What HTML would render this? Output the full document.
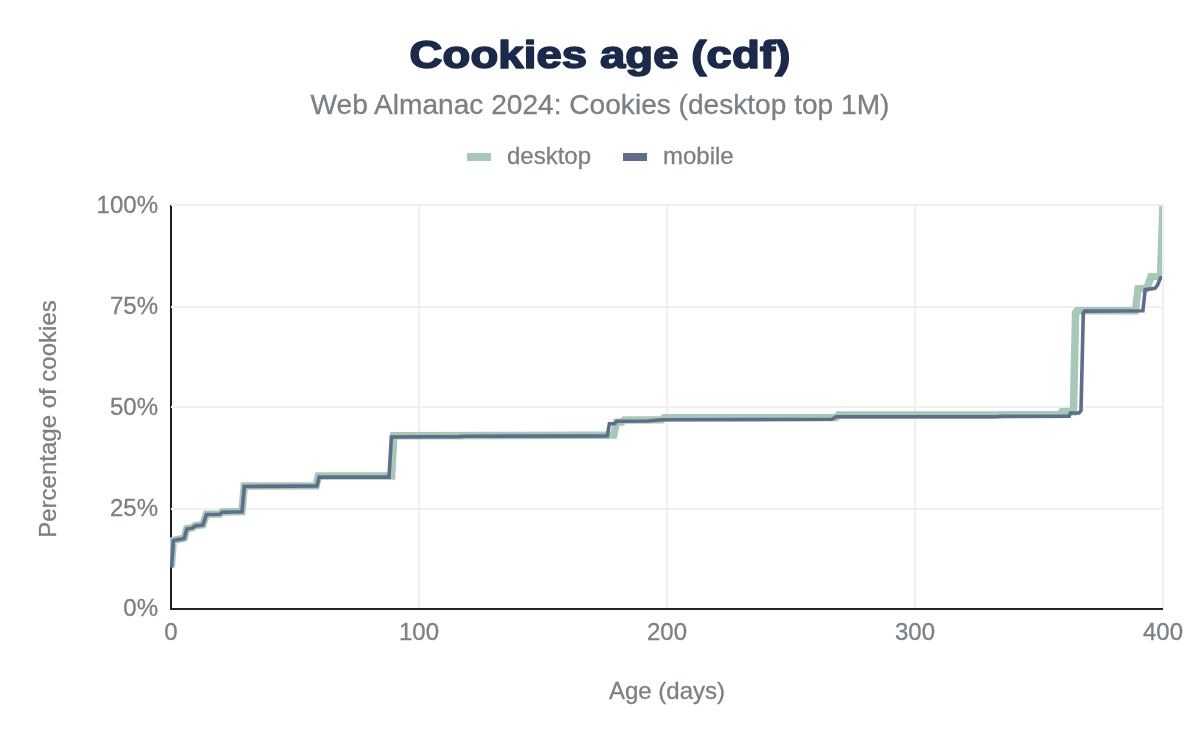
<!DOCTYPE html>
<html>
<head>
<meta charset="utf-8">
<style>
html,body{margin:0;padding:0;background:#fff;}
body{width:1200px;height:742px;overflow:hidden;position:relative;font-family:"Liberation Sans",sans-serif;}
svg{position:absolute;left:0;top:0;will-change:transform;}
</style>
</head>
<body>
<svg width="1200" height="742" viewBox="0 0 1200 742">
  <!-- title -->
  <text transform="translate(600,68.4) scale(1.15,1)" x="0" y="0" text-anchor="middle" font-family="Liberation Sans" font-weight="bold" font-size="39.5" letter-spacing="0.12" fill="#1b2a4a" stroke="#1b2a4a" stroke-width="1.7" stroke-linejoin="round">Cookies age (cdf)</text>
  <text x="600" y="114" text-anchor="middle" font-family="Liberation Sans" font-size="28.1" fill="#7a8085" stroke="#7a8085" stroke-width="0.3">Web Almanac 2024: Cookies (desktop top 1M)</text>
  <!-- legend -->
  <rect x="467" y="153" width="24" height="8" fill="#a5c9b6"/>
  <text x="507" y="163.5" font-family="Liberation Sans" font-size="24" fill="#7a8085" stroke="#7a8085" stroke-width="0.3">desktop</text>
  <rect x="623" y="153" width="24" height="8" fill="#5f6d8c"/>
  <text x="663" y="163.5" font-family="Liberation Sans" font-size="24" fill="#7a8085" stroke="#7a8085" stroke-width="0.3">mobile</text>
  <!-- grid -->
  <g stroke="#efefef" stroke-width="2" fill="none">
    <line x1="171" y1="205" x2="1164" y2="205"/>
    <line x1="171" y1="307" x2="1164" y2="307"/>
    <line x1="171" y1="407" x2="1164" y2="407"/>
    <line x1="171" y1="509" x2="1164" y2="509"/>
    <line x1="419" y1="204" x2="419" y2="608"/>
    <line x1="667" y1="204" x2="667" y2="608"/>
    <line x1="915" y1="204" x2="915" y2="608"/>
    <line x1="1163" y1="204" x2="1163" y2="608"/>
  </g>
  <!-- axis labels -->
  <g font-family="Liberation Sans" font-size="24" fill="#7a8085" stroke="#7a8085" stroke-width="0.3" text-anchor="end">
    <text x="158" y="212.5">100%</text>
    <text x="158" y="313.5">75%</text>
    <text x="158" y="414.5">50%</text>
    <text x="158" y="515.5">25%</text>
    <text x="158" y="615.5">0%</text>
  </g>
  <g font-family="Liberation Sans" font-size="24" fill="#7a8085" stroke="#7a8085" stroke-width="0.3" text-anchor="middle">
    <text x="171" y="639.5">0</text>
    <text x="419" y="639.5">100</text>
    <text x="667" y="639.5">200</text>
    <text x="915" y="639.5">300</text>
    <text x="1163" y="639.5">400</text>
  </g>
  <text x="667" y="699.2" text-anchor="middle" font-family="Liberation Sans" font-size="24" fill="#7a8085" stroke="#7a8085" stroke-width="0.3">Age (days)</text>
  <text transform="translate(56,419) rotate(-90)" text-anchor="middle" font-family="Liberation Sans" font-size="24" fill="#7a8085" stroke="#7a8085" stroke-width="0.3">Percentage of cookies</text>
  <!-- axes -->
  <rect x="170" y="205" width="2" height="405" fill="#1e1e1e"/>
  <rect x="170" y="608" width="993" height="2" fill="#222"/>
  <g fill="#fff"><rect x="171" y="205" width="1" height="1"/><rect x="171" y="306" width="1" height="2"/><rect x="171" y="406" width="1" height="2"/><rect x="171" y="508" width="1" height="2"/></g>
  <!-- lines -->
  <defs><clipPath id="pc"><rect x="170" y="206" width="992" height="420"/></clipPath></defs>
  <g fill="none" clip-path="url(#pc)">
    <polyline id="desk" stroke="#a6c9b7" stroke-width="7.5" points="171.3,567.2 173.3,540.3 184.2,538.1 186.8,528.7 192.8,527.6 195.0,525.7 202.8,524.7 206.5,514.2 219.9,514.0 222.1,511.9 242.0,511.5 244.3,486.0 316.0,485.8 318.4,476.0 391.6,476.0 393.8,435.8 600.0,435.3 613.7,435.1 616.5,422.3 622.0,422.1 624.5,420.0 662.0,419.7 664.0,417.8 836.0,417.6 838.5,415.0 995.0,415.0 1059.8,414.6 1061.7,411.8 1073.4,411.8 1075.6,312.6 1077.2,310.8 1135.5,310.7 1138.0,288.9 1146.0,288.6 1148.5,284.0 1151.0,276.6 1160.5,276.4 1163.0,205.0"/>
    <polyline id="mob" stroke="#5f6d8c" stroke-width="3.6" points="171.5,567.6 173.4,540.6 184.2,538.4 186.8,529.0 192.8,527.9 195.0,526.0 202.8,525.0 206.5,514.5 219.9,514.3 222.1,512.2 242.0,511.8 244.3,486.5 292.5,486.1 316.9,486.0 319.2,477.1 389.0,477.1 391.4,437.0 459.0,436.6 466.0,436.2 607.3,436.0 609.4,423.7 615.0,423.5 616.6,421.2 648.0,421.0 662.0,419.7 832.0,419.3 836.0,416.8 996.0,416.8 1002.0,416.2 1069.2,416.1 1070.4,413.0 1079.0,413.0 1081.0,410.5 1083.3,312.8 1084.8,311.1 1142.9,310.8 1145.2,289.6 1155.0,288.3 1157.5,285.0 1159.8,279.5 1161.6,276.2"/>
  </g>
</svg>
</body>
</html>
